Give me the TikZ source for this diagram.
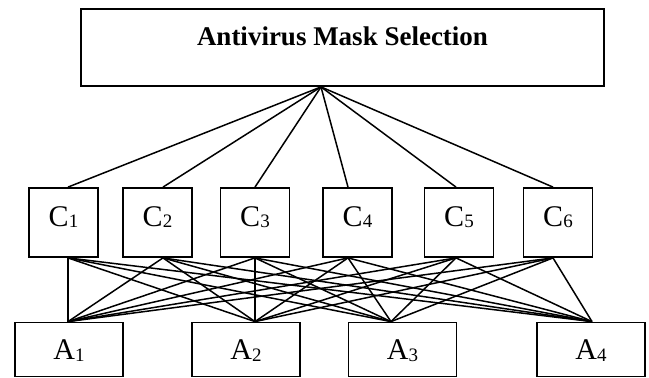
\documentclass[tikz,border=0pt]{standalone}
\usepackage{fontspec}
\setmainfont{Liberation Serif}
\newcommand\lowsub[1]{\raisebox{-1.5pt}{\fontsize{19}{20}\selectfont #1}}
\begin{document}
\begin{tikzpicture}[x=1pt,y=-1pt,
  box/.style={draw, line width=1.8pt, inner sep=0pt, text height=20pt},
  cbox/.style={box, minimum width=69pt, minimum height=69pt, text depth=13pt, font=\fontsize{30}{32}\selectfont},
  abox/.style={box, minimum width=108pt, minimum height=54pt, text depth=0pt, font=\fontsize{30}{32}\selectfont},
  link/.style={line width=1.5pt}]
\useasboundingbox (0,0) rectangle (649,378);
\node[draw, line width=1.8pt, inner sep=0pt, minimum width=523pt, minimum height=77pt,
      text height=18pt, text depth=23pt, font=\fontsize{27}{30}\selectfont\bfseries]
      (T) at (342.5,47.5) {Antivirus Mask Selection};
\coordinate (apex) at ([xshift=-21.5pt]T.south);

\node[cbox] (C1) at (63.5,222.5) {C\lowsub{1}};
\node[cbox] (C2) at (157.5,222.5) {C\lowsub{2}};
\node[cbox] (C3) at (255,222.5) {C\lowsub{3}};
\node[cbox] (C4) at (357.5,222.5) {C\lowsub{4}};
\node[cbox] (C5) at (459,222.5) {C\lowsub{5}};
\node[cbox] (C6) at (558,222.5) {C\lowsub{6}};

\node[abox] (A1) at (69,349.5) {A\lowsub{1}};
\node[abox] (A2) at (246,349.5) {A\lowsub{2}};
\node[abox] (A3) at (402.5,349.5) {A\lowsub{3}};
\node[abox] (A4) at (591,349.5) {A\lowsub{4}};

\foreach \c/\d in {1/4.5,2/5.5,3/0,4/-9.5,5/-3,6/-5}{
  \coordinate (C\c t) at ([xshift=\d pt]C\c.north);
  \coordinate (C\c b) at ([xshift=\d pt]C\c.south);
  \draw[link] (apex) -- (C\c t);
}
\foreach \a/\d in {1/-1,2/9,3/-11.5,4/1}{
  \coordinate (A\a t) at ([xshift=\d pt]A\a.north);
}
\foreach \c in {1,...,6}{
  \foreach \a in {1,...,4}{
    \draw[link] (C\c b) -- (A\a t);
  }
}
\end{tikzpicture}
\end{document}
